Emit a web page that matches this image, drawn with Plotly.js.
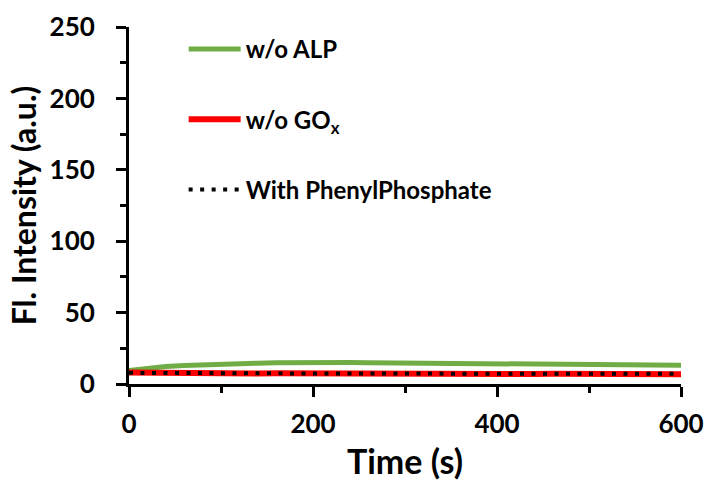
<!DOCTYPE html>
<html>
<head>
<meta charset="utf-8">
<script src="https://cdn.plot.ly/plotly-3.0.1.min.js"></script>
<style>html,body{margin:0;padding:0;background:#fff;}#chart{width:710px;height:489px;}</style>
</head>
<body>
<div id="chart"></div>
<script>
// time points (s)
var time = [0,20,40,60,80,100,120,140,160,180,200,220,240,260,280,300,320,340,360,380,400,420,440,460,480,500,520,540,560,580,600];
// w/o ALP
var woALP = [9.5,11.0,12.3,13.0,13.6,14.0,14.3,14.6,14.8,15.0,15.1,15.0,15.1,14.9,14.8,14.8,14.7,14.6,14.3,14.0,13.8,13.7,13.6,13.9,13.5,13.7,13.4,13.5,13.3,13.4,13.1];
// w/o GOx
var woGOx = [8.0,7.8,7.7,7.6,7.6,7.5,7.5,7.4,7.5,7.4,7.4,7.3,7.4,7.3,7.3,7.2,7.3,7.2,7.2,7.1,7.2,7.1,7.0,7.1,7.0,7.0,7.0,6.9,7.0,6.9,6.9];
// With PhenylPhosphate
var withPP = [7.8,7.7,7.6,7.6,7.5,7.5,7.5,7.4,7.4,7.5,7.4,7.4,7.3,7.4,7.3,7.3,7.3,7.2,7.3,7.2,7.2,7.2,7.1,7.2,7.1,7.1,7.1,7.0,7.1,7.0,7.1];

var seriesNames = ['w/o ALP', 'w/o GO<sub>x</sub>', 'With PhenylPhosphate'];
var xTicks = [0,200,400,600];
var yTicks = [0,50,100,150,200,250];

var FONT = 'Lato, "Open Sans", sans-serif';

var traces = [
  {x: time, y: woALP, name: seriesNames[0], mode: 'lines', legendgroup: 'a',
   line: {color: '#70AD47', width: 5}},
  {x: time, y: woGOx, name: seriesNames[1], mode: 'lines', legendgroup: 'b',
   line: {color: '#FF0000', width: 6}},
  {x: time, y: withPP, name: seriesNames[2], mode: 'lines', legendgroup: 'c',
   line: {color: '#000000', width: 4, dash: '4px,7.5px'}}
];

var axisCommon = {
  showline: true, linecolor: '#000', linewidth: 3,
  ticks: 'outside', tickcolor: '#000', tickwidth: 3, ticklen: 10,
  showgrid: false, zeroline: false,
  tickfont: {family: FONT, size: 26, color: '#000', weight: 'bold'}
};

var layout = {
  width: 710, height: 489,
  margin: {l: 129, r: 29, t: 27, b: 105},
  paper_bgcolor: '#fff', plot_bgcolor: '#fff',
  showlegend: true,
  legend: {
    x: 0.099, y: 1.0, xanchor: 'left', yanchor: 'top',
    font: {family: FONT, size: 24, color: '#000', weight: 'bold'},
    tracegroupgap: 36, bgcolor: 'rgba(0,0,0,0)', itemwidth: 52
  },
  xaxis: Object.assign({}, axisCommon, {
    range: [0, 600], tickvals: xTicks, ticktext: xTicks.map(String),
    minor: {dtick: 100, ticks: 'outside', ticklen: 6, tickwidth: 3, tickcolor: '#000'},
    ticklabelstandoff: 5,
    title: {text: 'Time (s)', standoff: 12, font: {family: FONT, size: 34, color: '#000', weight: 'bold'}}
  }),
  yaxis: Object.assign({}, axisCommon, {
    range: [0, 250], tickvals: yTicks, ticktext: yTicks.map(String),
    minor: {dtick: 25, ticks: 'outside', ticklen: 6, tickwidth: 3, tickcolor: '#000'},
    ticklabelstandoff: 16,
    title: {text: 'Fl. Intensity (a.u.)', standoff: 4, font: {family: FONT, size: 32, color: '#000', weight: 'bold'}}
  })
};

Plotly.newPlot('chart', traces, layout, {displayModeBar: false, staticPlot: true});
</script>
</body>
</html>
